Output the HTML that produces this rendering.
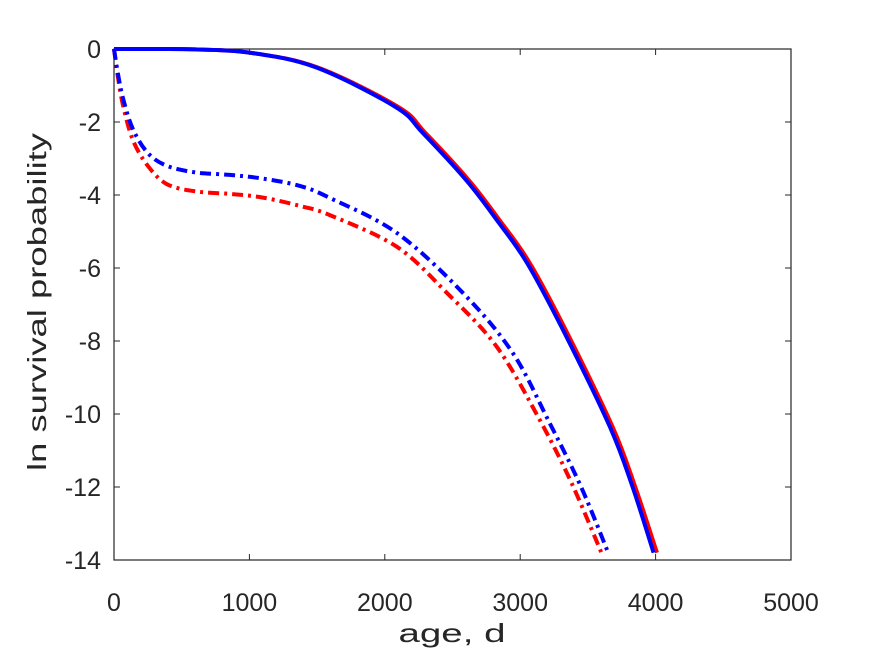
<!DOCTYPE html>
<html><head><meta charset="utf-8"><style>
html,body{margin:0;padding:0;background:#fff;}
svg{display:block;font-family:"Liberation Sans",Arial,sans-serif;}
</style></head><body>
<svg id="chart" width="875" height="656" viewBox="0 0 875 656" xmlns="http://www.w3.org/2000/svg">
<rect width="875" height="656" fill="#fff"/>
<g id="axes"></g>
<g id="series"></g>
<text x="452" y="642" font-size="26" fill="#262626" text-anchor="middle" textLength="107" lengthAdjust="spacingAndGlyphs">age, d</text>
<text transform="translate(46,302) rotate(-90)" font-size="26" fill="#262626" text-anchor="middle" textLength="338" lengthAdjust="spacingAndGlyphs">ln survival probability</text>
</svg>
<script>
const xTicks=[0,1000,2000,3000,4000,5000];
const yTicks=[0,-2,-4,-6,-8,-10,-12,-14];
const redSolidX=[0,300,600,1000,1500,2100,2300,2620,2850,3070,3350,3683,3850,4010];
const redSolidY=[0,0,-0.01,-0.1,-0.5,-1.59,-2.3,-3.59,-4.7,-5.86,-7.8,-10.36,-12.0,-13.8];
const blueSolidX=[0,300,600,1000,1490,2080,2280,2600,2830,3050,3330,3663,3830,3985];
const blueSolidY=[0,0,-0.01,-0.1,-0.5,-1.59,-2.3,-3.59,-4.7,-5.86,-7.8,-10.36,-12.0,-13.8];
const redDashX=[0,30,70,140,250,390,600,856,1100,1373,1594,2089,2458,2827,3144,3380,3600];
const redDashY=[0,-0.8,-1.6,-2.5,-3.2,-3.7,-3.9,-3.97,-4.07,-4.3,-4.55,-5.42,-6.68,-8.16,-10.16,-11.9,-13.8];
const blueDashX=[0,30,70,140,250,390,600,856,1100,1373,1594,2089,2576,2945,3218,3450,3650];
const blueDashY=[0,-0.7,-1.4,-2.2,-2.85,-3.2,-3.38,-3.45,-3.55,-3.75,-4.08,-5.04,-6.68,-8.33,-10.25,-12,-13.8];

const X0=114,X1=791,Y0=49,Y1=560;
const xs=v=>X0+(v-0)/5000*(X1-X0);
const ys=v=>Y0+(0-v)/14*(Y1-Y0);
const NS="http://www.w3.org/2000/svg";
const ax=document.getElementById('axes');
const ser=document.getElementById('series');
function mk(t,p,a){const e=document.createElementNS(NS,t);for(const k in a)e.setAttribute(k,a[k]);p.appendChild(e);return e;}

const frame=mk('rect',ax,{x:X0,y:Y0,width:X1-X0,height:Y1-Y0,fill:'none',stroke:'#262626','stroke-width':1.2});


xTicks.forEach(v=>{
  const x=xs(v);
  const t1=mk('line',ax,{x1:x,x2:x,y1:Y1,y2:Y1-6,stroke:'#262626'});
  
  
  const t2=mk('line',ax,{x1:x,x2:x,y1:Y0,y2:Y0+6,stroke:'#262626'});
  
  
  const lb=mk('text',ax,{x:x,y:Y1+51,'font-size':25,fill:'#262626','text-anchor':'middle'});
  lb.textContent=v;
  
  
});
yTicks.forEach(v=>{
  const y=ys(v);
  const t1=mk('line',ax,{x1:X0,x2:X0+6,y1:y,y2:y,stroke:'#262626'});
  
  
  const t2=mk('line',ax,{x1:X1,x2:X1-6,y1:y,y2:y,stroke:'#262626'});
  
  
  const lb=mk('text',ax,{x:X0-13,y:y+9,'font-size':25,fill:'#262626','text-anchor':'end'});
  lb.textContent=v;
  
  
});
function line(xa,ya,color,dash,name){
  const P=xa.map((v,i)=>[xs(v),ys(ya[i])]);
  let d='M'+P[0][0].toFixed(1)+','+P[0][1].toFixed(1);
  for(let i=0;i<P.length-1;i++){
    const p0=P[Math.max(0,i-1)],p1=P[i],p2=P[i+1],p3=P[Math.min(P.length-1,i+2)];
    const c1=[p1[0]+(p2[0]-p0[0])/6,p1[1]+(p2[1]-p0[1])/6];
    const c2=[p2[0]-(p3[0]-p1[0])/6,p2[1]-(p3[1]-p1[1])/6];
    d+=' C'+c1[0].toFixed(1)+','+c1[1].toFixed(1)+' '+c2[0].toFixed(1)+','+c2[1].toFixed(1)+' '+p2[0].toFixed(1)+','+p2[1].toFixed(1);
  }
  const a={d:d,fill:'none',stroke:color,'stroke-width':4,'stroke-linejoin':'round'};
  if(dash)a['stroke-dasharray']=dash;
  const p=mk('path',ser,a);
  
  
}
line(redSolidX,redSolidY,'#ff0000',null,'red-solid-line');
line(blueSolidX,blueSolidY,'#0000ff',null,'blue-solid-line');
line(redDashX,redDashY,'#ff0000','11 5 3 5','red-dashdot-line');
line(blueDashX,blueDashY,'#0000ff','11 5 3 5','blue-dashdot-line');
</script>
</body></html>
